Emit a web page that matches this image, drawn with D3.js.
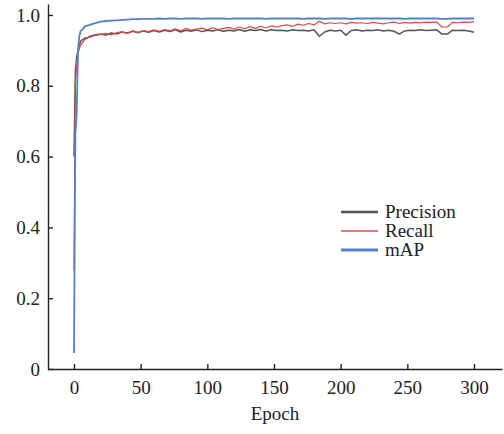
<!DOCTYPE html>
<html>
<head>
<meta charset="utf-8">
<script src="https://cdn.jsdelivr.net/npm/d3@7"></script>
<style>
    body { margin: 0; background: #fff; }
    svg { display: block; }
    .axis text { font-family: "Liberation Serif", "Times New Roman", serif; font-size: 19px; fill: #222; }
    .axis path, .axis line { stroke: #222; stroke-width: 1.4; }
</style>
</head>
<body>
<script>
const epochs = [0, 1, 2, 3, 4, 5, 6, 7, 8, 10, 12, 14, 16, 18,
    20, 24, 28, 32, 36, 40, 44, 48, 52, 56, 60, 64, 68, 72, 76, 80, 84, 88, 92, 96,
    100, 104, 108, 112, 116, 120, 124, 128, 132, 136, 140, 144, 148, 152, 156, 160, 164, 168, 172, 176,
    180, 184, 188, 192, 196, 200, 204, 208, 212, 216, 220, 224, 228, 232, 236, 240, 244, 248, 252, 256,
    260, 264, 268, 272, 276, 280, 284, 288, 292, 296, 300];

const precision = [0.60, 0.84, 0.88, 0.90, 0.915, 0.925, 0.93, 0.93, 0.935, 0.935, 0.94, 0.942, 0.944, 0.945,
    0.946, 0.943, 0.949, 0.946, 0.952, 0.949, 0.954, 0.950, 0.955, 0.951, 0.956, 0.952, 0.957, 0.953, 0.958, 0.952, 0.957, 0.954, 0.958, 0.953,
    0.957, 0.955, 0.958, 0.954, 0.957, 0.955, 0.959, 0.954, 0.958, 0.956, 0.959, 0.955, 0.958, 0.956, 0.957, 0.955, 0.958, 0.956, 0.957, 0.955,
    0.958, 0.940, 0.952, 0.957, 0.955, 0.957, 0.943, 0.956, 0.958, 0.955, 0.957, 0.956, 0.958, 0.955, 0.957, 0.954, 0.946, 0.955, 0.957, 0.956,
    0.958, 0.956, 0.957, 0.958, 0.946, 0.946, 0.957, 0.956, 0.957, 0.955, 0.951];

const recall = [0.28, 0.80, 0.86, 0.89, 0.905, 0.915, 0.92, 0.925, 0.93, 0.935, 0.937, 0.94, 0.942, 0.944,
    0.945, 0.948, 0.944, 0.950, 0.952, 0.948, 0.955, 0.951, 0.956, 0.953, 0.958, 0.954, 0.959, 0.956, 0.961, 0.955, 0.962, 0.957, 0.960, 0.963,
    0.958, 0.964, 0.959, 0.962, 0.965, 0.960, 0.966, 0.961, 0.967, 0.962, 0.968, 0.964, 0.969, 0.966, 0.970, 0.972, 0.968, 0.974, 0.971, 0.976,
    0.972, 0.982, 0.975, 0.978, 0.976, 0.978, 0.975, 0.979, 0.977, 0.978, 0.976, 0.979, 0.977, 0.975, 0.978, 0.980, 0.976, 0.979, 0.977, 0.979,
    0.978, 0.980, 0.979, 0.980, 0.966, 0.966, 0.979, 0.978, 0.980, 0.979, 0.981];

const mAP = [0.045, 0.66, 0.72, 0.90, 0.94, 0.955, 0.958, 0.962, 0.968, 0.970, 0.972, 0.975, 0.977, 0.979,
    0.981, 0.983, 0.984, 0.985, 0.986, 0.987, 0.988, 0.988, 0.989, 0.989, 0.989, 0.990, 0.989, 0.990, 0.990, 0.989, 0.990, 0.990, 0.990, 0.989,
    0.990, 0.990, 0.990, 0.990, 0.989, 0.990, 0.990, 0.990, 0.990, 0.990, 0.990, 0.989, 0.990, 0.990, 0.990, 0.990, 0.990, 0.990, 0.989, 0.990,
    0.990, 0.990, 0.989, 0.990, 0.990, 0.990, 0.990, 0.989, 0.990, 0.990, 0.990, 0.990, 0.990, 0.990, 0.990, 0.990, 0.990, 0.989, 0.990, 0.990,
    0.990, 0.990, 0.990, 0.990, 0.989, 0.989, 0.990, 0.990, 0.990, 0.990, 0.990];

const yTicks = [0, 0.2, 0.4, 0.6, 0.8, 1.0];
const xTicks = [0, 50, 100, 150, 200, 250, 300];

const seriesList = [
    { name: "Precision", values: precision, color: "#555555", width: 1.5, legendWidth: 2.6 },
    { name: "Recall", values: recall, color: "#de4a4a", width: 1.2, legendWidth: 1.6 },
    { name: "mAP", values: mAP, color: "#5580c8", width: 1.8, legendWidth: 3 }
];

const width = 504;
const height = 434;

const svg = d3.select("body")
    .append("svg")
    .attr("width", width)
    .attr("height", height);

const x = d3.scaleLinear().domain([-19.5, 321]).range([48, 502]);
const y = d3.scaleLinear().domain([0, 1.031]).range([369, 4]);

svg.append("g")
    .attr("class", "axis")
    .attr("transform", "translate(0,369)")
    .call(d3.axisBottom(x).tickValues(xTicks).tickSizeInner(-5).tickSizeOuter(0).tickPadding(12).tickFormat(d3.format("d")));

svg.append("g")
    .attr("class", "axis")
    .attr("transform", "translate(48,0)")
    .call(d3.axisLeft(y).tickValues(yTicks).tickSizeInner(-5).tickSizeOuter(0).tickPadding(8)
        .tickFormat(d => d === 0 ? "0" : d3.format(".1f")(d)));

const line = d3.line()
    .x((d, i) => x(epochs[i]))
    .y(d => y(d));

seriesList.forEach(s => {
    svg.append("path")
        .datum(s.values)
        .attr("fill", "none")
        .attr("stroke", s.color)
        .attr("stroke-width", s.width)
        .attr("stroke-linejoin", "round")
        .attr("d", line);
});

// legend
const legend = svg.append("g").attr("transform", "translate(341,212)");
seriesList.forEach((s, i) => {
    legend.append("line")
        .attr("x1", 0).attr("x2", 37)
        .attr("y1", i * 19).attr("y2", i * 19)
        .attr("stroke", s.color)
        .attr("stroke-width", s.legendWidth);
    legend.append("text")
        .attr("x", 44)
        .attr("y", i * 19)
        .attr("dy", "0.33em")
        .style("font-family", "'Liberation Serif', 'Times New Roman', serif")
        .style("font-size", "19px")
        .attr("fill", "#222")
        .text(s.name);
});

svg.append("text")
    .attr("x", 275)
    .attr("y", 420)
    .attr("text-anchor", "middle")
    .style("font-family", "'Liberation Serif', 'Times New Roman', serif")
    .style("font-size", "19px")
    .attr("fill", "#222")
    .text("Epoch");
</script>
</body>
</html>
